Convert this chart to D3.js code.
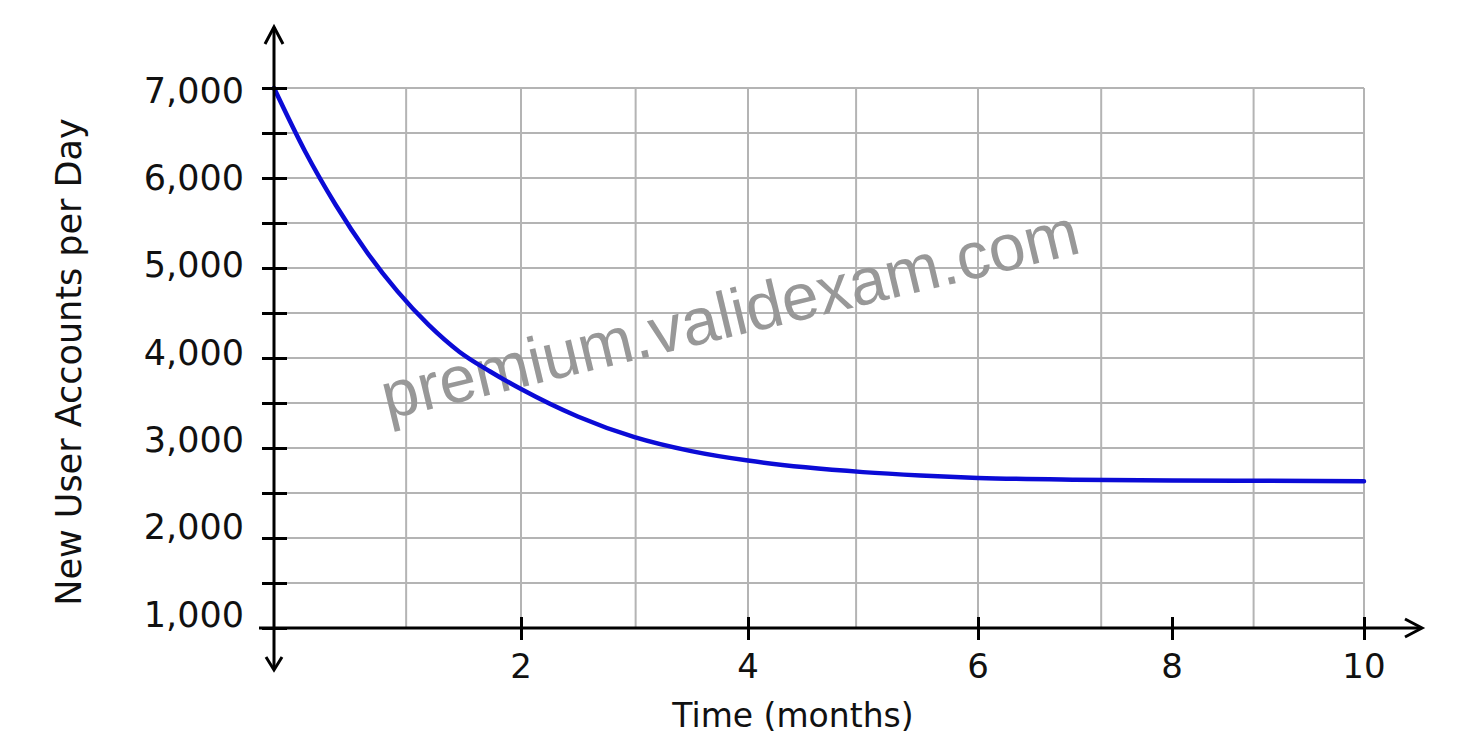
<!DOCTYPE html>
<html>
<head>
<meta charset="utf-8">
<script src="https://cdn.jsdelivr.net/npm/d3@7/dist/d3.min.js"></script>
<style>
  html, body { margin: 0; padding: 0; background: #ffffff; }
  svg { display: block; }
  text { font-family: "DejaVu Sans", sans-serif; fill: #111; }
</style>
</head>
<body>
<svg id="chart" width="1474" height="752"></svg>
<script>
// ---- data ----
const months   = [0, 0.25, 0.5, 0.75, 1, 1.25, 1.5, 1.75, 2, 2.5, 3, 3.5, 4, 4.5, 5, 5.5, 6, 7, 8, 9, 10];
const accounts = [7000, 6300, 5700, 5180, 4740, 4370, 4070, 3850, 3655, 3350, 3120, 2965, 2860, 2785, 2732, 2695, 2668, 2648, 2640, 2635, 2630];
const xTickValues = [2, 4, 6, 8, 10];
const gridMonths  = [1.07, 2, 3.01, 4, 4.94, 6, 7.27, 8.85, 10];
const yTickValues = [1000, 1500, 2000, 2500, 3000, 3500, 4000, 4500, 5000, 5500, 6000, 6500, 7000];
const yLabelValues = [1000, 2000, 3000, 4000, 5000, 6000, 7000];
const xTitle = "Time (months)";
const yTitle = "New User Accounts per Day";
const watermark = "premium.validexam.com";

// ---- scales ----
const svg = d3.select("#chart");
const x = d3.scaleLinear().domain([0, 2, 4, 6, 8, 10]).range([274, 521, 748, 978, 1172, 1364]);
const y = d3.scaleLinear().domain([1000, 7000]).range([628, 88]);
const yLab = d3.scaleLinear().domain([1000, 7000]).range([614, 90]);
const fmt = d3.format(",");

const x0 = x(0), x1 = x(10), yBot = y(1000), yTop = y(7000);

// ---- grid ----
const grid = svg.append("g").attr("stroke", "#b4b4b4").attr("stroke-width", 2);
grid.selectAll("line.v").data(gridMonths).join("line").attr("class", "v")
  .attr("x1", d => x(d)).attr("x2", d => x(d)).attr("y1", yTop).attr("y2", yBot);
grid.selectAll("line.h").data(yTickValues.filter(v => v > 1000)).join("line").attr("class", "h")
  .attr("x1", x0).attr("x2", x1).attr("y1", d => y(d)).attr("y2", d => y(d));

// ---- watermark ----
svg.append("text")
  .attr("transform", "translate(735,336) rotate(-13.5)")
  .attr("text-anchor", "middle")
  .style("font-family", "'Liberation Sans', Arial, sans-serif")
  .style("font-size", "66px")
  .style("fill", "#989898")
  .text(watermark);

// ---- curve ----
const line = d3.line().x((d, i) => x(months[i])).y(d => y(d)).curve(d3.curveMonotoneX);
svg.append("path").datum(accounts)
  .attr("d", line)
  .attr("fill", "none")
  .attr("stroke", "#0b0bd6")
  .attr("stroke-width", 4.5)
  .attr("stroke-linecap", "round");

// ---- axes ----
const ax = svg.append("g").attr("stroke", "#000").attr("stroke-width", 3).attr("fill", "none");
ax.append("line").attr("x1", x0 - 15).attr("x2", x1 + 57).attr("y1", yBot).attr("y2", yBot);
ax.append("line").attr("x1", x0).attr("x2", x0).attr("y1", yTop - 61).attr("y2", yBot + 41);
ax.append("path").attr("d", `M${x1 + 41},${yBot - 9} L${x1 + 58},${yBot} L${x1 + 41},${yBot + 9}`);
ax.append("path").attr("d", `M${x0 - 9},${yTop - 44} L${x0},${yTop - 61} L${x0 + 9},${yTop - 44}`);
ax.append("path").attr("d", `M${x0 - 8},${yBot + 29} L${x0},${yBot + 42} L${x0 + 8},${yBot + 29}`);

// y ticks crossing the axis
const yAxisG = svg.append("g").attr("transform", `translate(${x0 + 13},0)`)
  .call(d3.axisLeft(y).tickValues(yTickValues).tickSize(25).tickFormat(""));
yAxisG.select(".domain").remove();
yAxisG.selectAll("line").attr("stroke", "#000").attr("stroke-width", 3);

// x ticks crossing the axis
const xAxisG = svg.append("g").attr("transform", `translate(0,${yBot + 12})`)
  .call(d3.axisTop(x).tickValues(xTickValues).tickSize(23).tickFormat(""));
xAxisG.select(".domain").remove();
xAxisG.selectAll("line").attr("stroke", "#000").attr("stroke-width", 3);

// ---- labels ----
svg.append("g").selectAll("text").data(yLabelValues).join("text")
  .attr("x", x0 - 30).attr("y", d => yLab(d)).attr("dy", "0.36em")
  .attr("text-anchor", "end").style("font-size", "35px")
  .text(d => fmt(d));

svg.append("g").selectAll("text").data(xTickValues).join("text")
  .attr("x", d => x(d)).attr("y", yBot + 50)
  .attr("text-anchor", "middle").style("font-size", "34px")
  .text(d => d);

svg.append("text").attr("x", 793).attr("y", 727)
  .attr("text-anchor", "middle").style("font-size", "33px").text(xTitle);

svg.append("text").attr("transform", "translate(81,362) rotate(-90)")
  .attr("text-anchor", "middle").style("font-size", "35px").text(yTitle);
</script>
</body>
</html>
